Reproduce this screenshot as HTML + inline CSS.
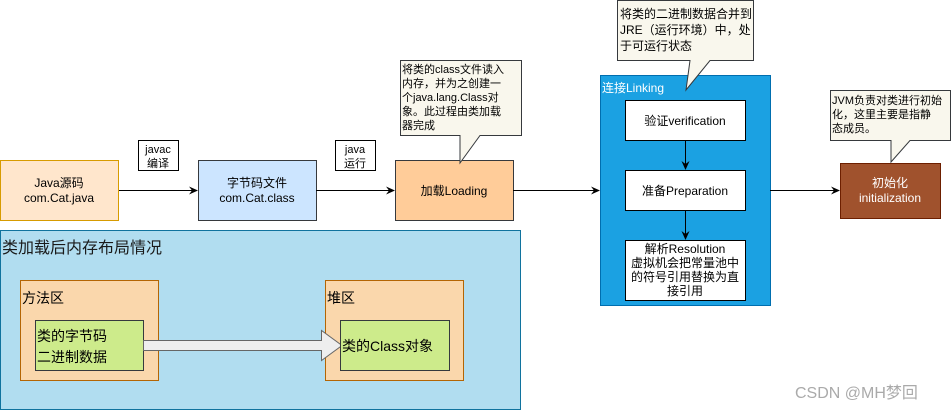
<!DOCTYPE html>
<html><head><meta charset="utf-8"><style>
body{margin:0;background:#fff;}
svg text{font-family:"Liberation Sans","Noto Sans CJK SC",sans-serif;}
</style></head><body>
<svg width="951" height="411" viewBox="0 0 951 411" xmlns="http://www.w3.org/2000/svg">
<defs><marker id="a" markerWidth="10" markerHeight="10" refX="8" refY="5" orient="auto" markerUnits="userSpaceOnUse"><path d="M0,1 L9,5 L0,9 L3,5 Z" fill="#000"/></marker></defs>
<!-- top row -->
<rect x="0.5" y="160.5" width="118" height="60" fill="#ffe6cc" stroke="#d79b00"/>
<text x="59" y="187" font-size="12" text-anchor="middle">Java源码</text>
<text x="59" y="202" font-size="12" text-anchor="middle">com.Cat.java</text>
<line x1="119" y1="190.5" x2="197" y2="190.5" stroke="#000" marker-end="url(#a)"/>
<rect x="138.5" y="140.5" width="40" height="30" fill="#fff" stroke="#000"/>
<text x="158" y="153" font-size="11" text-anchor="middle">javac</text>
<text x="158" y="167" font-size="11" text-anchor="middle">编译</text>
<rect x="198.5" y="160.5" width="118" height="60" fill="#cce5ff" stroke="#36393d"/>
<text x="257" y="187" font-size="12" text-anchor="middle">字节码文件</text>
<text x="257" y="202" font-size="12" text-anchor="middle">com.Cat.class</text>
<line x1="316" y1="190.5" x2="394" y2="190.5" stroke="#000" marker-end="url(#a)"/>
<rect x="335.5" y="140.5" width="40" height="30" fill="#fff" stroke="#000"/>
<text x="355" y="153" font-size="11" text-anchor="middle">java</text>
<text x="355" y="167" font-size="11" text-anchor="middle">运行</text>
<rect x="395.5" y="160.5" width="118" height="60" fill="#ffcc99" stroke="#36393d"/>
<text x="454" y="195" font-size="12" text-anchor="middle">加载Loading</text>
<line x1="513" y1="190.5" x2="599" y2="190.5" stroke="#000" marker-end="url(#a)"/>
<!-- callout 1 -->
<path d="M400.5,60.5 H521.5 V135.5 H480 L460,163 L460,135.5 H400.5 Z" fill="#f9f7ed" stroke="#36393d"/>
<text font-size="11"><tspan x="402" y="73">将类的class文件读入</tspan><tspan x="402" y="87">内存，并为之创建一</tspan><tspan x="402" y="101">个java.lang.Class对</tspan><tspan x="402" y="115">象。此过程由类加载</tspan><tspan x="402" y="129">器完成</tspan></text>
<!-- linking -->
<rect x="600.5" y="75.5" width="170" height="230" fill="#1ba1e2" stroke="#006eaf"/>
<text x="602" y="92" font-size="12" fill="#fff">连接Linking</text>
<path d="M617.5,0.5 H753.5 V60.5 H710 L686,90 L690,60.5 H617.5 Z" fill="#f9f7ed" stroke="#36393d"/>
<text font-size="12"><tspan x="620" y="18">将类的二进制数据合并到</tspan><tspan x="620" y="34">JRE（运行环境）中，处</tspan><tspan x="620" y="50">于可运行状态</tspan></text>
<rect x="625.5" y="100.5" width="120" height="40" fill="#fff" stroke="#000"/>
<text x="685" y="125" font-size="12" text-anchor="middle">验证verification</text>
<line x1="685.5" y1="140" x2="685.5" y2="169" stroke="#000" marker-end="url(#a)"/>
<rect x="625.5" y="170.5" width="120" height="40" fill="#fff" stroke="#000"/>
<text x="685" y="195" font-size="12" text-anchor="middle">准备Preparation</text>
<line x1="685.5" y1="210" x2="685.5" y2="239" stroke="#000" marker-end="url(#a)"/>
<rect x="625.5" y="240.5" width="120" height="60" fill="#fff" stroke="#000"/>
<text font-size="12" text-anchor="middle"><tspan x="685" y="253">解析Resolution</tspan><tspan x="685" y="267">虚拟机会把常量池中</tspan><tspan x="685" y="281">的符号引用替换为直</tspan><tspan x="685" y="295">接引用</tspan></text>
<line x1="770" y1="190.5" x2="839" y2="190.5" stroke="#000" marker-end="url(#a)"/>
<rect x="840.5" y="163.5" width="100" height="55" fill="#a0522d" stroke="#6d1f00"/>
<text x="890" y="187" font-size="12" fill="#fff" text-anchor="middle">初始化</text>
<text x="890" y="202" font-size="12" fill="#fff" text-anchor="middle">initialization</text>
<path d="M830.5,90.5 H950.5 V140.5 H910 L891,162 L891,140.5 H830.5 Z" fill="#f9f7ed" stroke="#36393d"/>
<text font-size="11"><tspan x="832" y="104">JVM负责对类进行初始</tspan><tspan x="832" y="118">化，这里主要是指静</tspan><tspan x="832" y="132">态成员。</tspan></text>
<!-- memory -->
<rect x="0.5" y="230.5" width="520" height="179" fill="#b1ddf0" stroke="#10739e"/>
<text x="2" y="253" font-size="16" fill="#1a1a1a">类加载后内存布局情况</text>
<rect x="20.5" y="280.5" width="138" height="100" fill="#fad7ac" stroke="#b46504"/>
<text x="22" y="303" font-size="14">方法区</text>
<rect x="325.5" y="280.5" width="138" height="100" fill="#fad7ac" stroke="#b46504"/>
<text x="327" y="303" font-size="14">堆区</text>
<rect x="35.5" y="320.5" width="108" height="50" fill="#cdeb8b" stroke="#36393d"/>
<text x="37" y="341" font-size="14">类的字节码</text>
<text x="37" y="362" font-size="14">二进制数据</text>
<path d="M143.5,340.5 H321.5 V330.5 L342,345.5 L321.5,360.5 V350.5 H143.5 Z" fill="#eeeeee" stroke="#666"/>
<rect x="340.5" y="320.5" width="109" height="50" fill="#cdeb8b" stroke="#36393d"/>
<text x="342" y="351" font-size="14">类的Class对象</text>
<text x="795" y="398" font-size="16" fill="#aaa">CSDN @MH梦回</text>
</svg>
</body></html>
